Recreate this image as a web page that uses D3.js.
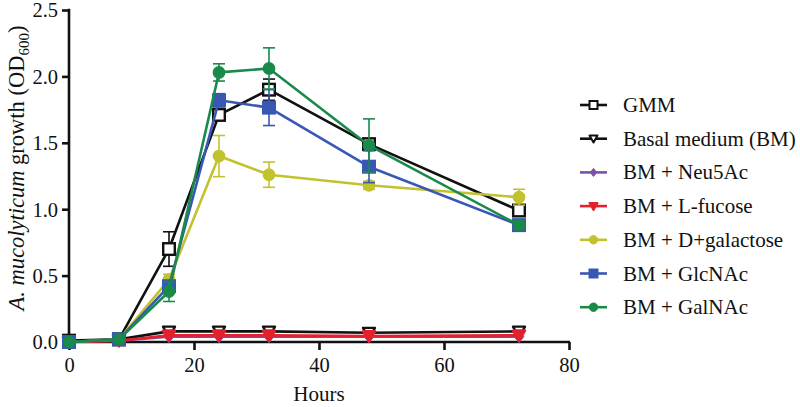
<!DOCTYPE html>
<html><head><meta charset="utf-8">
<script src="https://cdn.jsdelivr.net/npm/d3@7"></script>
<style>body{margin:0;background:#fff}svg{display:block}</style>
</head><body><svg id="c" width="800" height="407" style="font-family:'Liberation Serif','Times New Roman',serif"></svg>
<script>
const hours = [0, 8, 16, 24, 32, 48, 72];
const seriesNames = ["GMM", "Basal medium (BM)", "BM + Neu5Ac", "BM + L-fucose", "BM + D+galactose", "BM + GlcNAc", "BM + GalNAc"];
const gmm = [0.01, 0.02, 0.70, 1.71, 1.90, 1.49, 0.99];
const gmmSD = [0, 0, 0.13, 0.03, 0.08, 0.03, 0.04];
const bm = [0.0, 0.02, 0.08, 0.08, 0.08, 0.07, 0.08];
const bmSD = [0, 0, 0, 0, 0, 0, 0];
const neu5ac = [0.0, 0.01, 0.04, 0.04, 0.04, 0.04, 0.04];
const neu5acSD = [0, 0, 0, 0, 0, 0, 0];
const fucose = [0.0, 0.01, 0.05, 0.05, 0.05, 0.045, 0.05];
const fucoseSD = [0, 0, 0, 0, 0, 0, 0];
const galactose = [0.0, 0.02, 0.47, 1.40, 1.26, 1.18, 1.09];
const galactoseSD = [0, 0, 0.04, 0.155, 0.095, 0.03, 0.06];
const glcnac = [0.0, 0.02, 0.42, 1.82, 1.765, 1.32, 0.88];
const glcnacSD = [0, 0, 0.03, 0.05, 0.135, 0.12, 0.04];
const galnac = [0.0, 0.02, 0.38, 2.03, 2.06, 1.48, 0.88];
const galnacSD = [0, 0, 0.075, 0.065, 0.155, 0.2, 0.03];
const xTicks = [0, 20, 40, 60, 80];
const yTicks = [0, 0.5, 1.0, 1.5, 2.0, 2.5];

const FONT = "'Liberation Serif','Times New Roman',serif";
const styles = [
  {color:"#111", marker:"square", fill:"#fff"},
  {color:"#111", marker:"tri", fill:"#fff"},
  {color:"#7f4fa6", marker:"diamond", fill:"#7f4fa6"},
  {color:"#e3202b", marker:"tri", fill:"#e3202b"},
  {color:"#c2c22e", marker:"circle", fill:"#c2c22e"},
  {color:"#3957b3", marker:"square", fill:"#3957b3"},
  {color:"#1a8a4b", marker:"circle", fill:"#1a8a4b"}
];
const means = [gmm, bm, neu5ac, fucose, galactose, glcnac, galnac];
const sds = [gmmSD, bmSD, neu5acSD, fucoseSD, galactoseSD, glcnacSD, galnacSD];
const series = seriesNames.map((n,i)=>({name:n, vals:hours.map((h,j)=>({x:h,y:means[i][j],sd:sds[i][j]})), ...styles[i]}));

const svg = d3.select("#c");
const x = d3.scaleLinear().domain([0,80]).range([69,569]);
const y = d3.scaleLinear().domain([0,2.5]).range([342,10]);

// axes
const xa = svg.append("g").attr("transform","translate(0,342)").call(d3.axisBottom(x).tickValues(xTicks).tickFormat(d3.format("d")).tickSizeOuter(0).tickSize(8).tickPadding(7));
const ya = svg.append("g").attr("transform","translate(69,0)").call(d3.axisLeft(y).tickValues(yTicks).tickFormat(d3.format(".1f")).tickSizeOuter(0).tickSize(7).tickPadding(4));
[xa,ya].forEach(a=>{
  a.attr("font-family",FONT);
  a.select(".domain").attr("stroke","#111").attr("stroke-width",2.6);
  a.selectAll(".tick line").attr("stroke","#111").attr("stroke-width",2.6);
  a.selectAll(".tick text").attr("font-size",20.5).attr("fill","#111").style("font-family",FONT);
});
ya.selectAll(".tick text").attr("dy","0.34em");
ya.select(".domain").attr("d","M0,342V8.7");
xa.select(".domain").attr("d","M67.7,0H570");

// axis titles
svg.append("text").attr("x",319).attr("y",401).attr("text-anchor","middle").attr("fill","#111").style("font-family",FONT).style("font-size","21px").text("Hours");
const yt = svg.append("text").attr("transform","translate(24,168) rotate(-90)").attr("text-anchor","middle").attr("fill","#111").style("font-family",FONT).style("font-size","22.5px");
yt.append("tspan").style("font-style","italic").text("A. mucolyticum");
yt.append("tspan").text(" growth (OD");
yt.append("tspan").attr("dy",5).style("font-size","15px").text("600");
yt.append("tspan").attr("dy",-5).text(")");

function drawMarker(g, type, cx, cy, s, color, fill, sw){
  if(type==="square") g.append("rect").attr("x",cx-s).attr("y",cy-s).attr("width",2*s).attr("height",2*s).attr("fill",fill).attr("stroke",color).attr("stroke-width",sw);
  else if(type==="circle") g.append("circle").attr("cx",cx).attr("cy",cy).attr("r",s*1.05).attr("fill",fill).attr("stroke",color).attr("stroke-width",sw*0.5);
  else if(type==="tri") g.append("path").attr("d",`M${cx-s},${cy-s*0.8}L${cx+s},${cy-s*0.8}L${cx},${cy+s*0.95}Z`).attr("fill",fill).attr("stroke",color).attr("stroke-width",sw).attr("stroke-linejoin","round");
  else if(type==="diamond") g.append("path").attr("d",`M${cx},${cy-s}L${cx+s*0.8},${cy}L${cx},${cy+s}L${cx-s*0.8},${cy}Z`).attr("fill",fill).attr("stroke",color).attr("stroke-width",1);
}

const line = d3.line().x(d=>x(d.x)).y(d=>y(d.y));
series.forEach(s=>{
  const g = svg.append("g");
  s.vals.filter(d=>d.sd>0).forEach(d=>{
    const x0=x(d.x), y1=y(d.y+d.sd), y2=y(d.y-d.sd);
    g.append("line").attr("x1",x0).attr("x2",x0).attr("y1",y1).attr("y2",y2).attr("stroke",s.color).attr("stroke-width",1.6);
    [y1,y2].forEach(yy=>g.append("line").attr("x1",x0-6).attr("x2",x0+6).attr("y1",yy).attr("y2",yy).attr("stroke",s.color).attr("stroke-width",1.6));
  });
  g.append("path").datum(s.vals).attr("d",line).attr("fill","none").attr("stroke",s.color).attr("stroke-width",2.6).attr("stroke-linejoin","round");
  s.vals.forEach(d=>{
    const sz = s.marker==="square"? 5.8 : s.marker==="circle"?5.5 : 6;
    drawMarker(g, s.marker, x(d.x), y(d.y), sz, s.color, s.fill, 2.4);
  });
});

// legend
const lg = svg.append("g");
series.forEach((s,i)=>{
  const yy = 105 + i*33.7;
  lg.append("line").attr("x1",580).attr("x2",607).attr("y1",yy).attr("y2",yy).attr("stroke",s.color).attr("stroke-width",2.6);
  drawMarker(lg, s.marker, 593.5, yy, 4, s.color, s.fill, 2);
  lg.append("text").attr("x",623).attr("y",yy+7).attr("fill","#111").style("font-family",FONT).style("font-size","21px").text(s.name);
});
</script></body></html>
